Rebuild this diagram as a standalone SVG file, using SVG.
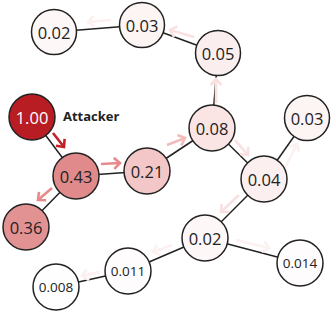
<svg xmlns="http://www.w3.org/2000/svg" width="332" height="313" viewBox="0 0 332 313">
<style>
.edge{stroke:#222;stroke-width:1.5;fill:none}
.node{stroke:#222;stroke-width:1.5}
.lbl{font-family:"Open Sans","Liberation Sans",sans-serif;font-size:16.5px;fill:#222;text-anchor:middle;dominant-baseline:central}
.sm{font-size:13.5px}
.arr{fill:none;stroke-width:2.6;stroke-linecap:butt}
</style>
<defs>
<marker id="m1" markerUnits="userSpaceOnUse" markerWidth="14" markerHeight="14" refX="7" refY="7" orient="auto" viewBox="0 0 14 14"><path d="M1,1.5 L7,7 L1,12.5" fill="none" stroke="#c42028" stroke-width="2.6"/></marker>
<marker id="m2" markerUnits="userSpaceOnUse" markerWidth="14" markerHeight="14" refX="7" refY="7" orient="auto" viewBox="0 0 14 14"><path d="M1,1.5 L7,7 L1,12.5" fill="none" stroke="#e88a8c" stroke-width="2.6"/></marker>
<marker id="m3" markerUnits="userSpaceOnUse" markerWidth="14" markerHeight="14" refX="7" refY="7" orient="auto" viewBox="0 0 14 14"><path d="M1,1.5 L7,7 L1,12.5" fill="none" stroke="#f3bcbc" stroke-width="2.6"/></marker>
<marker id="m4" markerUnits="userSpaceOnUse" markerWidth="14" markerHeight="14" refX="7" refY="7" orient="auto" viewBox="0 0 14 14"><path d="M1,1.5 L7,7 L1,12.5" fill="none" stroke="#f9e1e1" stroke-width="2.6"/></marker>
<marker id="m5" markerUnits="userSpaceOnUse" markerWidth="14" markerHeight="14" refX="7" refY="7" orient="auto" viewBox="0 0 14 14"><path d="M1,1.5 L7,7 L1,12.5" fill="none" stroke="#fcf0f0" stroke-width="2.6"/></marker>
</defs>
<g id="connectors">
<line class="edge" x1="54" y1="32" x2="142" y2="25"/>
<line class="edge" x1="142" y1="25" x2="218" y2="53"/>
<line class="edge" x1="218" y1="53" x2="212" y2="128"/>
<line class="edge" x1="212" y1="128" x2="147" y2="171"/>
<line class="edge" x1="212" y1="128" x2="264" y2="179"/>
<line class="edge" x1="264" y1="179" x2="307" y2="118"/>
<line class="edge" x1="264" y1="179" x2="205" y2="238"/>
<line class="edge" x1="205" y1="238" x2="300" y2="263"/>
<line class="edge" x1="205" y1="238" x2="128" y2="271"/>
<line class="edge" x1="128" y1="271" x2="56" y2="287"/>
<line class="edge" x1="32" y1="117" x2="76" y2="176"/>
<line class="edge" x1="76" y1="176" x2="147" y2="171"/>
<line class="edge" x1="76" y1="176" x2="26" y2="227"/>
<line class="arr" stroke="#c42028" x1="53" y1="133" x2="64" y2="147" marker-end="url(#m1)"/>
<line class="arr" stroke="#e88a8c" x1="101" y1="164" x2="120" y2="163" marker-end="url(#m2)"/>
<line class="arr" stroke="#e88a8c" x1="52" y1="188" x2="38" y2="200" marker-end="url(#m2)"/>
<line class="arr" stroke="#f3bcbc" x1="167" y1="145" x2="185" y2="138" marker-end="url(#m3)"/>
<line class="arr" stroke="#f9e1e1" x1="216" y1="103" x2="216" y2="79" marker-end="url(#m4)"/>
<line class="arr" stroke="#f9e1e1" x1="194" y1="37" x2="170" y2="30" marker-end="url(#m4)"/>
<line class="arr" stroke="#fcf0f0" x1="111" y1="20" x2="88" y2="22" marker-end="url(#m5)"/>
<line class="arr" stroke="#f9e1e1" x1="235" y1="140" x2="248" y2="155" marker-end="url(#m4)"/>
<line class="arr" stroke="#fcf0f0" x1="285" y1="168" x2="297" y2="144" marker-end="url(#m5)"/>
<line class="arr" stroke="#f9e1e1" x1="239" y1="195" x2="221" y2="212" marker-end="url(#m4)"/>
<line class="arr" stroke="#fcf0f0" x1="236" y1="240" x2="269" y2="248" marker-end="url(#m5)"/>
<line class="arr" stroke="#fcf0f0" x1="172" y1="245" x2="153" y2="252" marker-end="url(#m5)"/>
<line class="arr" stroke="#fcf0f0" x1="100" y1="272" x2="82" y2="276" marker-end="url(#m5)"/>
</g>
<g id="n002a"><circle class="node" cx="54" cy="32" r="22.5" fill="#fdf7f7"/><text class="lbl" x="54" y="32">0.02</text></g>
<g id="n003a"><circle class="node" cx="142" cy="25" r="22.5" fill="#fdf4f4"/><text class="lbl" x="142" y="25">0.03</text></g>
<g id="n005"><circle class="node" cx="218" cy="53" r="22.5" fill="#fbeeee"/><text class="lbl" x="218" y="53">0.05</text></g>
<g id="n008"><circle class="node" cx="212" cy="128" r="23" fill="#fae4e4"/><text class="lbl" x="212" y="128">0.08</text></g>
<g id="n003b"><circle class="node" cx="307" cy="118" r="22.5" fill="#fdf4f4"/><text class="lbl" x="307" y="118">0.03</text></g>
<g id="n100"><circle class="node" cx="32" cy="117" r="23" fill="#b81d24"/><text class="lbl" x="32" y="117" style="fill:#fff">1.00</text></g>
<g id="attacker"><text x="63" y="121" style="font-family:'Open Sans','Liberation Sans',sans-serif;font-weight:bold;font-size:13px;fill:#222">Attacker</text></g>
<g id="n043"><circle class="node" cx="76" cy="176" r="23" fill="#e08a8b"/><text class="lbl" x="76" y="176">0.43</text></g>
<g id="n021"><circle class="node" cx="147" cy="171" r="23" fill="#f3c7c7"/><text class="lbl" x="147" y="171">0.21</text></g>
<g id="n036"><circle class="node" cx="26" cy="227" r="23" fill="#e39293"/><text class="lbl" x="26" y="227">0.36</text></g>
<g id="n004"><circle class="node" cx="264" cy="179" r="23" fill="#fcefef"/><text class="lbl" x="264" y="179">0.04</text></g>
<g id="n002b"><circle class="node" cx="205" cy="238" r="23" fill="#fdf7f7"/><text class="lbl" x="205" y="238">0.02</text></g>
<g id="n0014"><circle class="node" cx="300" cy="263" r="23" fill="#fefcfc"/><text class="lbl sm" x="300" y="263">0.014</text></g>
<g id="n0011"><circle class="node" cx="128" cy="271" r="23" fill="#fefcfc"/><text class="lbl sm" x="128" y="271">0.011</text></g>
<g id="n0008"><circle class="node" cx="56" cy="287" r="23" fill="#fefefe"/><text class="lbl sm" x="56" y="287">0.008</text></g>
</svg>
